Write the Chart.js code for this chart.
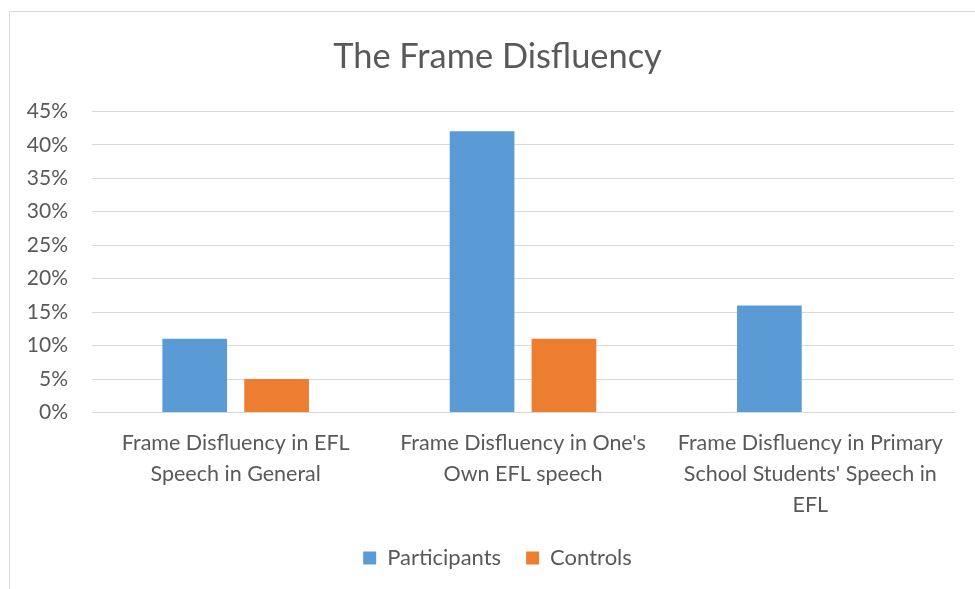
<!DOCTYPE html>
<html>
<head>
<meta charset="utf-8">
<script src="https://cdn.jsdelivr.net/npm/chart.js@4"></script>
<style>
  html, body { margin: 0; padding: 0; background: #fff; overflow: hidden; }
  #frame {
    position: absolute; left: 9px; top: 11px;
    width: 976px; height: 578px;
    border-left: 1px solid #d9d9d9; border-top: 1px solid #d9d9d9;
  }
</style>
</head>
<body>
<div id="frame"><canvas id="chart" width="975" height="577"></canvas></div>
<script>
// chart data
const categories = [
  ["Frame Disfluency in EFL", "Speech in General"],
  ["Frame Disfluency in One's", "Own EFL speech"],
  ["Frame Disfluency in Primary", "School Students' Speech in", "EFL"]
];
const participants = [11, 42, 16];
const controls = [5, 11, 0];
const yTicks = [0, 5, 10, 15, 20, 25, 30, 35, 40, 45];

const textColor = "#595959";
const gridColor = "#d9d9d9";
const fontFamily = "Lato, 'Open Sans', sans-serif";

new Chart(document.getElementById("chart").getContext("2d"), {
    type: "bar",
    data: {
        labels: categories,
        datasets: [{
            label: "Participants",
            data: participants,
            backgroundColor: "#5b9bd5",
            categoryPercentage: 0.57,
            barPercentage: 0.79
        }, {
            label: "Controls",
            data: controls,
            backgroundColor: "#ed7d31",
            categoryPercentage: 0.57,
            barPercentage: 0.79
        }]
    },
    options: {
        responsive: false,
        animation: false,
        layout: { padding: { left: 0, right: 0, top: 0, bottom: 10 } },
        plugins: {
            title: {
                display: true,
                text: "The Frame Disfluency",
                color: textColor,
                font: { family: fontFamily, size: 34.4, weight: "normal" },
                padding: { top: 24, bottom: 34 }
            },
            legend: {
                position: "bottom",
                labels: {
                    color: textColor,
                    font: { family: fontFamily, size: 22 },
                    boxWidth: 13,
                    boxHeight: 13,
                    padding: 25
                }
            },
            tooltip: { enabled: false }
        },
        scales: {
            x: {
                grid: { display: false, drawTicks: false },
                border: { color: gridColor },
                afterFit: function(axis) { axis.height = axis.height - 14; },
                ticks: {
                    color: textColor,
                    font: { family: fontFamily, size: 21.5, lineHeight: 1.45 },
                    maxRotation: 0,
                    padding: 15
                }
            },
            y: {
                min: 0,
                max: 45,
                afterBuildTicks: function(axis) {
                    axis.ticks = yTicks.map(v => ({ value: v }));
                },
                afterFit: function(axis) { axis.width = 82; },
                grid: { color: gridColor, drawTicks: false },
                border: { display: false },
                ticks: {
                    color: textColor,
                    font: { family: fontFamily, size: 21 },
                    padding: 24,
                    callback: v => v + "%"
                }
            },
            // empty right axis, only keeps the plot off the right edge
            yRight: {
                type: "linear",
                position: "right",
                grid: { display: false, drawTicks: false },
                border: { display: false },
                ticks: { display: false },
                afterFit: function(axis) { axis.width = 31; }
            }
        }
    }
});
</script>
</body>
</html>
